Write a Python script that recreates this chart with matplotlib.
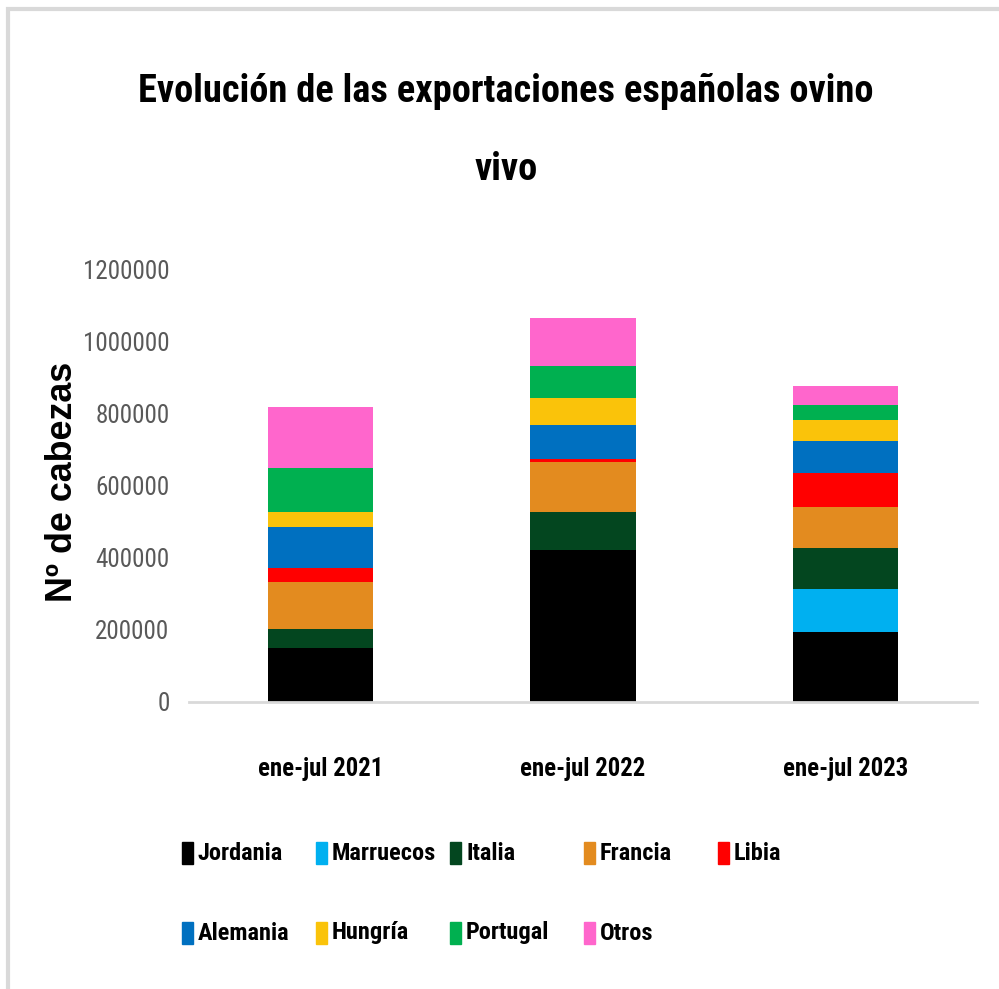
import matplotlib
matplotlib.use('Agg')
from matplotlib import pyplot as plt
from matplotlib import font_manager as fm
from matplotlib.patches import Rectangle
import numpy as np

periods = ['ene-jul 2021', 'ene-jul 2022', 'ene-jul 2023']
countries = ['Jordania', 'Marruecos', 'Italia', 'Francia', 'Libia',
             'Alemania', 'Hungría', 'Portugal', 'Otros']
colors = ['#000000', '#00B0F0', '#03461F', '#E38B1F', '#FF0000',
          '#0070C0', '#FAC30A', '#00B050', '#FF66CC']

jordania = [148000, 420000, 193000]
marruecos = [0, 0, 119000]
italia = [53000, 107000, 114000]
francia = [130000, 138000, 115000]
libia = [39000, 7000, 94000]
alemania = [114000, 95000, 89000]
hungria = [42000, 75000, 56000]
portugal = [121000, 89000, 44000]
otros = [170000, 132000, 52000]
series = [jordania, marruecos, italia, francia, libia, alemania, hungria, portugal, otros]

yticks = [0, 200000, 400000, 600000, 800000, 1000000, 1200000]

# pick a narrow face if one is installed, otherwise Arial-like
avail = {f.name for f in fm.fontManager.ttflist}
cond = [n for n in ['Liberation Sans Narrow', 'Roboto Condensed', 'Open Sans Condensed',
                    'Noto Sans Condensed', 'DejaVu Sans Condensed'] if n in avail]
narrow = cond[:1] + ['Liberation Sans', 'DejaVu Sans']
wide = ['Liberation Sans', 'DejaVu Sans']

W, H = 999, 989
dpi = 100
fig = plt.figure(figsize=(W / dpi, H / dpi), dpi=dpi)
renderer = fig.canvas.get_renderer()


def fit_size(s, target_px, family, weight='bold', stretch='condensed', base=20):
    t = fig.text(0, 0, s, family=family, fontsize=base, fontweight=weight, fontstretch=stretch)
    w = t.get_window_extent(renderer=renderer).width
    t.remove()
    return base * target_px / w


title_fs = fit_size('Evolución de las exportaciones españolas ovino', 732, narrow)
xt_fs = fit_size('ene-jul 2021', 125, narrow)
yt_fs = fit_size('1200000', 87, narrow, weight='normal')
leg_fs = fit_size('Marruecos', 104, narrow)
ylab_fs = fit_size('Nº de cabezas', 240, wide, stretch='normal')

# light grey frame on top and left edge
fig.patches.append(Rectangle((8 / W, -0.1), 1.2, 1.1 - 9 / H, transform=fig.transFigure,
                             fill=False, edgecolor='#d9d9d9', linewidth=3))

ax = fig.add_axes([189 / W, 1 - 701.5 / H, (977 - 189) / W, (701.5 - 269) / H])

x = np.arange(len(periods))
bottom = np.zeros(len(periods))
for name, vals, c in zip(countries, series, colors):
    ax.bar(x, vals, width=0.4, bottom=bottom, color=c, label=name)
    bottom += np.array(vals)

ax.set_xlim(-0.5, 2.5)
ax.set_ylim(0, 1200000)
ax.set_yticks(yticks)
ax.set_yticklabels([str(v) for v in yticks], family=narrow, fontsize=yt_fs,
                   fontstretch='condensed', color='#595959')
ax.set_xticks(x)
ax.set_xticklabels(periods, family=narrow, fontsize=xt_fs, fontweight='bold',
                   fontstretch='condensed')
ax.tick_params(axis='y', length=0, pad=14)
ax.tick_params(axis='x', length=0, pad=40)
for s in ['top', 'right', 'left']:
    ax.spines[s].set_visible(False)
ax.spines['bottom'].set_color('#d9d9d9')
ax.spines['bottom'].set_linewidth(2)

fig.text(62 / W, 1 - 482 / H, 'Nº de cabezas', rotation=90, ha='center', va='center',
         family=wide, fontsize=ylab_fs, fontweight='bold')

fig.text(506 / W, 1 - 92 / H, 'Evolución de las exportaciones españolas ovino',
         ha='center', va='center', family=narrow, fontsize=title_fs, fontweight='bold',
         fontstretch='condensed')
fig.text(506 / W, 1 - 170 / H, 'vivo',
         ha='center', va='center', family=narrow, fontsize=title_fs, fontweight='bold',
         fontstretch='condensed')

# legend laid out in Excel-like fixed columns
for i, (name, c) in enumerate(zip(countries, colors)):
    col, row = i % 5, i // 5
    lx = 182 + 134 * col
    ly = 853 + 80 * row
    fig.patches.append(Rectangle((lx / W, 1 - (ly + 11) / H), 11 / W, 22 / H,
                                 transform=fig.transFigure, color=c))
    fig.text((lx + 16) / W, 1 - ly / H, name, ha='left', va='center',
             family=narrow, fontsize=leg_fs, fontweight='bold', fontstretch='condensed')

plt.savefig('out.png', dpi=dpi)
